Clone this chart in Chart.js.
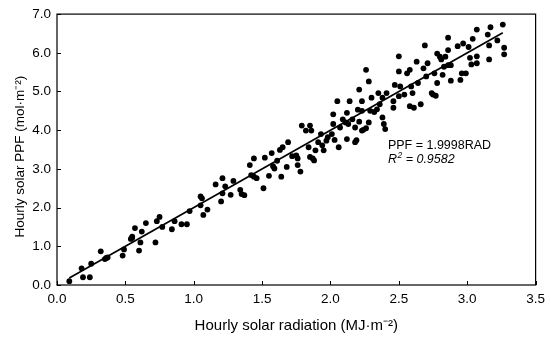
<!DOCTYPE html>
<html><head><meta charset="utf-8">
<script src="https://cdn.jsdelivr.net/npm/chart.js@4/dist/chart.umd.min.js"></script>
<style>html,body{margin:0;padding:0;background:#fff}#wrap{width:551px;height:341px}</style>
</head><body><div id="wrap"><canvas id="c" width="551" height="341"></canvas></div>
<script>
const radiation = [
0.09,0.18,0.19,0.24,0.25,0.32,0.35,0.37,0.48,0.49,0.54,0.55,0.57,0.60,0.61,0.62,0.65,0.72,0.73,0.75,0.77,
0.84,0.86,0.91,0.95,0.97,1.05,1.05,1.07,1.10,1.16,1.20,1.21,1.21,1.23,1.27,1.29,1.34,1.35,1.37,1.41,1.42,1.44,1.44,1.46,
1.51,1.52,1.55,1.57,1.58,1.59,1.61,1.63,1.64,1.65,1.68,1.69,1.75,1.76,1.76,1.78,1.79,1.82,1.84,1.85,1.86,1.85,1.87,1.89,1.91,1.93,1.94,1.95,1.97,1.98,2.02,2.02,2.03,2.05,2.06,2.07,2.09,2.11,2.12,2.13,2.14,2.16,2.18,
2.18,2.20,2.21,2.21,2.23,2.23,2.23,2.26,2.24,2.26,2.28,2.28,2.29,2.30,2.32,2.34,2.35,2.36,2.38,2.38,2.39,2.40,2.41,2.46,2.46,2.47,2.50,2.50,2.50,2.51,2.54,2.56,2.58,2.59,2.60,2.61,2.58,2.63,2.64,2.66,2.68,2.69,2.70,2.71,2.74,2.75,2.76,2.78,2.78,2.77,
2.80,2.81,2.82,2.83,2.84,2.86,2.86,2.86,2.88,2.88,2.93,2.95,2.96,2.97,2.99,3.01,3.02,3.03,3.04,3.07,3.07,3.07,3.15,3.16,3.16,3.17,3.22,3.26,3.27,3.27,
0.36,0.55,1.06,1.72,1.88,2.12,2.01,2.19
];
const ppf = [
0.10,0.43,0.20,0.20,0.55,0.87,0.67,0.71,0.76,0.92,1.19,1.25,1.47,0.89,1.10,1.38,1.60,1.10,1.65,1.76,1.50,
1.44,1.65,1.57,1.57,1.91,2.06,2.29,1.81,1.95,2.60,2.16,2.76,2.37,2.55,2.33,2.69,2.46,2.35,2.32,3.10,2.84,2.80,3.27,2.76,
2.50,3.29,2.82,3.41,3.07,3.01,3.21,3.49,2.80,3.56,3.05,3.69,3.35,3.27,3.10,2.93,4.12,3.99,3.56,4.12,3.99,3.31,3.27,3.48,3.69,3.90,3.61,3.48,3.73,3.82,4.41,4.16,3.75,4.75,3.56,4.07,4.28,4.20,4.45,4.16,4.75,4.28,4.07,
3.69,4.53,5.05,4.22,4.50,3.99,4.75,5.56,4.01,4.05,4.20,5.26,4.50,4.84,4.47,4.54,4.96,4.67,4.84,4.33,4.16,4.03,4.96,4.58,4.75,5.17,4.88,5.91,5.52,5.13,4.92,5.47,5.56,5.13,4.96,4.58,4.62,5.77,5.22,4.67,5.60,6.19,5.39,5.73,4.96,4.92,5.47,5.22,5.98,4.89,
5.90,5.83,5.43,5.64,5.90,6.07,6.39,5.68,5.68,5.28,6.17,5.30,5.47,6.24,5.47,6.15,5.87,5.70,6.36,5.73,5.91,6.60,6.47,5.83,6.19,6.66,6.32,6.73,6.13,5.96,
0.70,1.22,2.24,3.33,3.22,3.77,3.90,3.74
];
const fitRadiation = [0.09, 3.26];
const fitPpf = [0.18, 6.52];
const xTicks = [0.0, 0.5, 1.0, 1.5, 2.0, 2.5, 3.0, 3.5];
const yTicks = [0, 1, 2, 3, 4, 5, 6, 7];
const xTitle = 'Hourly solar radiation (MJ\u00B7m\u207B\u00B2)';
const yTitle = 'Hourly solar PPF (mol\u00B7m\u207B\u00B2)';
const eqText = 'PPF = 1.9998RAD';
const r2Label = 'R';
const r2Sup = '2';
const r2Value = ' = 0.9582';

const FONT = '"Liberation Sans", Arial, sans-serif';

const framePlugin = {
  id: 'frame',
  afterDraw(chart) {
    const {ctx, chartArea: a, scales} = chart;
    ctx.save();
    ctx.strokeStyle = '#000';
    ctx.lineWidth = 1.2;
    ctx.strokeRect(a.left, a.top, a.right - a.left, a.bottom - a.top);
    ctx.lineWidth = 1;
    ctx.beginPath();
    xTicks.forEach(v => {
      const px = Math.round(scales.x.getPixelForValue(v)) + 0.5;
      ctx.moveTo(px, a.bottom); ctx.lineTo(px, a.bottom - 4);
    });
    yTicks.forEach(v => {
      const py = Math.round(scales.y.getPixelForValue(v)) + 0.5;
      ctx.moveTo(a.left, py); ctx.lineTo(a.left + 4, py);
    });
    ctx.stroke();
    // y-axis title
    ctx.fillStyle = '#000';
    ctx.save();
    ctx.translate(20, (a.top + a.bottom) / 2 + 7);
    ctx.rotate(-Math.PI / 2);
    ctx.font = '13.5px ' + FONT;
    ctx.textAlign = 'center';
    ctx.textBaseline = 'middle';
    ctx.fillText(yTitle, 0, 0);
    ctx.restore();
    // annotation
    ctx.textBaseline = 'alphabetic';
    ctx.textAlign = 'left';
    const tx = scales.x.getPixelForValue(2.42);
    const ty1 = scales.y.getPixelForValue(3.52);
    const ty2 = scales.y.getPixelForValue(3.16);
    ctx.font = '12.5px ' + FONT;
    ctx.fillText(eqText, tx, ty1);
    ctx.font = 'italic 12.5px ' + FONT;
    ctx.fillText(r2Label, tx, ty2);
    let w = ctx.measureText(r2Label).width;
    ctx.font = 'italic 8.5px ' + FONT;
    ctx.fillText(r2Sup, tx + w + 0.5, ty2 - 5);
    const w2 = ctx.measureText(r2Sup).width;
    ctx.font = 'italic 12.5px ' + FONT;
    ctx.fillText(r2Value, tx + w + w2 + 0.5, ty2);
    ctx.restore();
  }
};

new Chart(document.getElementById('c'), {
  type: 'scatter',
  data: {
    datasets: [
      {
        label: 'Observed',
        data: radiation.map((x, i) => ({x: x, y: ppf[i]})),
        backgroundColor: '#000',
        borderColor: '#000',
        borderWidth: 0,
        pointRadius: 2.9,
        pointHoverRadius: 2.9
      },
      {
        type: 'line',
        label: 'Fit',
        data: fitRadiation.map((x, i) => ({x: x, y: fitPpf[i]})),
        borderColor: '#000',
        borderWidth: 1.7,
        pointRadius: 0,
        fill: false
      }
    ]
  },
  options: {
    responsive: false,
    animation: false,
    devicePixelRatio: 1,
    layout: {padding: {top: 10, right: 9, left: 0, bottom: 0}},
    plugins: {legend: {display: false}, tooltip: {enabled: false}},
    scales: {
      x: {
        type: 'linear', min: 0, max: 3.5,
        afterBuildTicks: s => { s.ticks = xTicks.map(v => ({value: v})); },
        afterFit: s => { s.height = 56; },
        grid: {display: false, drawTicks: false},
        border: {display: false},
        ticks: {color: '#000', font: {family: FONT, size: 13.5}, padding: 6, maxRotation: 0,
                callback: v => Number(v).toFixed(1)},
        title: {display: true, text: xTitle, color: '#000', font: {family: FONT, size: 15},
                padding: {top: 0, bottom: 6}}
      },
      y: {
        type: 'linear', min: 0, max: 7,
        afterBuildTicks: s => { s.ticks = yTicks.map(v => ({value: v})); },
        afterFit: s => { s.width = 57; },
        grid: {display: false, drawTicks: false},
        border: {display: false},
        ticks: {color: '#000', font: {family: FONT, size: 13.5}, padding: 6,
                callback: v => Number(v).toFixed(1)},
        title: {display: false}
      }
    }
  },
  plugins: [framePlugin]
});
</script>
</body></html>
